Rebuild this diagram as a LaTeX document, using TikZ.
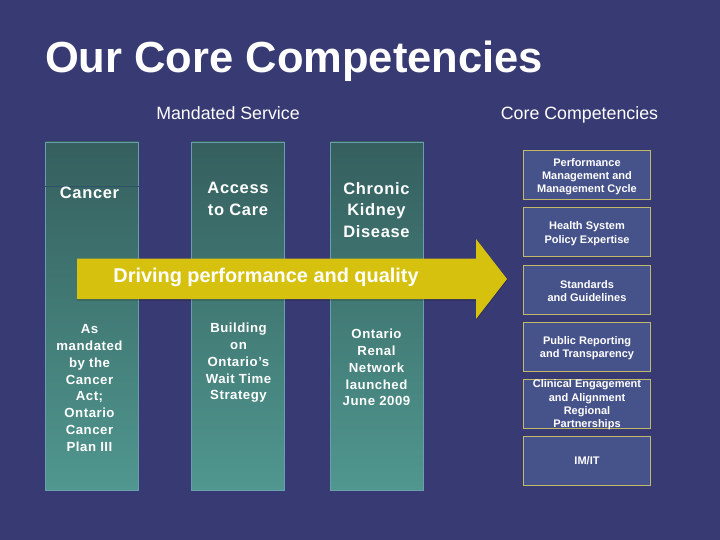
\documentclass[tikz,border=0pt]{standalone}
\usepackage{fontspec}
\setmainfont{Liberation Sans}
\newfontface\spacedbold[LetterSpace=4]{Liberation Sans Bold}
\usetikzlibrary{positioning,calc}
\definecolor{slidebg}{HTML}{383A73}
\definecolor{coltop}{HTML}{355F5E}
\definecolor{colbot}{HTML}{50978F}
\definecolor{coledge}{HTML}{6A9EAE}
\definecolor{bandfill}{HTML}{D6C10F}
\definecolor{boxfill}{HTML}{46528A}
\definecolor{boxedge}{HTML}{C2B868}
\definecolor{rulecol}{HTML}{2F5068}
\newcommand{\complift}{\rule{0pt}{11pt}}

\begin{document}
\begin{tikzpicture}[
    x=1pt, y=-1pt,
    column/.style={rectangle, draw=coledge, line width=0.8pt, top color=coltop, bottom color=colbot, minimum width=93pt, minimum height=348pt, inner sep=0pt},
    comp/.style={rectangle, draw=boxedge, line width=1pt, fill=boxfill, minimum width=127pt, minimum height=49pt, inner sep=0pt, align=center, text=white, font=\fontsize{11}{13.3}\selectfont\bfseries},
    head/.style={text=white, align=center, font=\fontsize{16.5}{21.7}\spacedbold},
    body/.style={text=white, align=center, font=\fontsize{13.2}{16.8}\spacedbold},
    caption/.style={text=white, anchor=base, font=\fontsize{17.8}{21}\selectfont},
]
    \useasboundingbox (0,0) rectangle (720,540);
    \fill[slidebg] (0,0) rectangle (720,540);

    \node[text=white, anchor=base, font=\fontsize{43.5}{50}\selectfont\bfseries] (title) at (294,72.5) {Our Core Competencies};
    \node[caption] (mandated) at (228,119.5) {Mandated Service};
    \node[caption] (core) at (579.5,119.5) {Core Competencies};

    \node[column] (col1) at (92,316) {};
    \node[column] (col2) at (238,316) {};
    \node[column] (col3) at (377,316) {};
    \draw[rulecol, line width=0.8pt] (col1.west |- 0,186) coordinate (rulea) -- (col1.east |- 0,186) coordinate (ruleb);

    \node[head] (cancer) at (89.5,193) {Cancer};
    \node[head] (access) at (238,199) {Access\\to Care};
    \node[head] (chronic) at (376.5,210) {Chronic\\Kidney\\Disease};

    % band across the columns
    \fill[black, opacity=0.2] (77,260) -- (476,260) -- (476,240.5) -- (507,280.5) -- (476,320.5) -- (476,300.5) -- (77,300.5) -- cycle;
    \fill[bandfill] (77,258.5) -- (476,258.5) -- (476,239) -- (507,279) -- (476,319) -- (476,299) -- (77,299) -- cycle;
    \node[text=white, font=\fontsize{19.9}{22}\selectfont\bfseries] (band) at (266,277.5) {Driving performance and quality};

    \node[body] (as) at (89.5,388) {As\\mandated\\by the\\Cancer\\Act;\\Ontario\\Cancer\\Plan III};
    \node[body] (building) at (238.5,363) {Building\\on\\Ontario’s\\Wait Time\\Strategy};
    \node[body] (renal) at (376.5,367.5) {Ontario\\Renal\\Network\\launched\\June 2009};

    \node[comp] (perf) at (587,175) {\complift Performance\\Management and\\Management Cycle};
    \node[comp] (policy) at (587,232) {\complift Health System\\Policy Expertise};
    \node[comp] (standards) at (587,289.5) {\complift Standards\\and Guidelines};
    \node[comp] (public) at (587,346.5) {\complift Public Reporting\\and Transparency};
    \node[comp, inner ysep=-4pt] (clinical) at (587,403.5) {\complift Clinical Engagement\\and Alignment\\Regional\\Partnerships};
    \node[comp] (imit) at (587,461) {IM/IT};
\end{tikzpicture}
\end{document}
